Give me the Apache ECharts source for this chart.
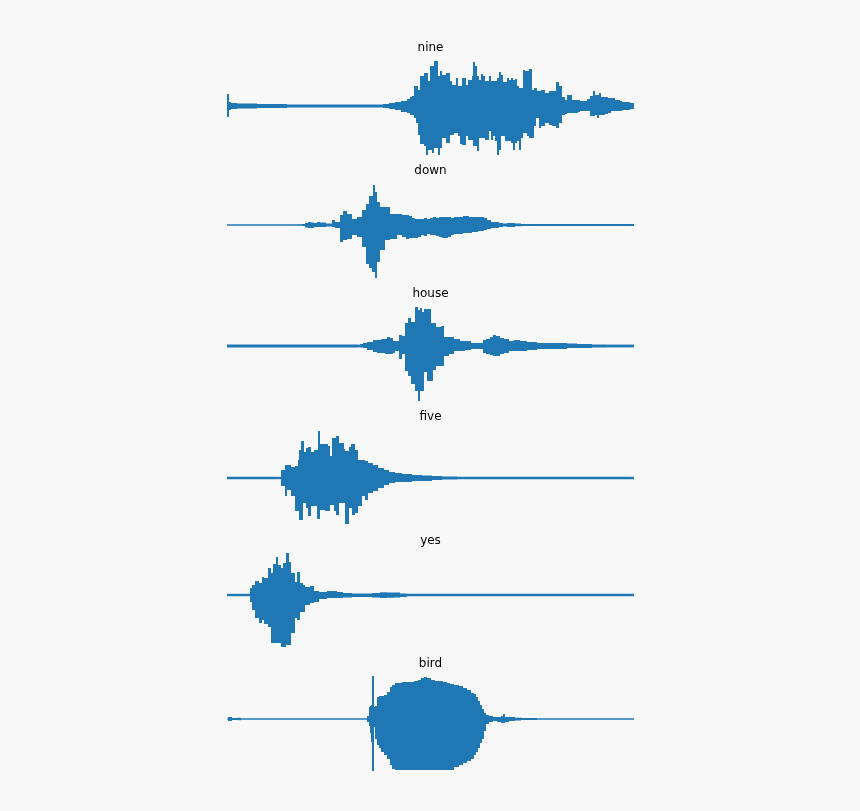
<!DOCTYPE html>
<html><head><meta charset="utf-8">
<style>html,body{margin:0;padding:0;background:#f8f8f8}#c{width:860px;height:811px}</style>
<script src="https://cdn.jsdelivr.net/npm/echarts@6/dist/echarts.min.js"></script>
</head><body><div id="c"></div>
<script>
// Each row: [time, upper envelope amplitude, lower envelope amplitude]; a row holds until the next row's time.
const words = ['nine','down','house','five','yes','bird'];
const nine = [[0,12,11],[2,4,4],[4,3,3],[10,2.5,2.5],[30,2,2],[60,1.6,1.6],[150,1.5,1.5],[156,2,2],[162,3,3],[168,4,4],[174,5,6],[180,7,7],[183,9,9],[185,10,9],[187,20,12],[189,20,17],[191,16,29],[193,30,38],[195,30,38],[197,33,40],[199,33,49],[201,25,44],[203,40,44],[205,40,47],[207,45,42],[209,45,42],[211,30,49],[213,35,42],[215,31,32],[217,31,32],[219,33,37],[221,33,37],[223,25,29],[225,21,29],[227,21,27],[229,28,27],[231,20,30],[233,20,38],[235,28,39],[237,28,39],[239,21,30],[241,26,34],[243,26,34],[245,30,34],[246,44,40],[248,40,40],[250,30,45],[252,26,32],[254,32,32],[256,30,32],[258,25,34],[260,25,34],[262,30,25],[264,25,34],[266,25,30],[268,25,35],[270,28,49],[272,34,44],[274,31,30],[276,24,30],[278,24,35],[280,28,35],[282,26,35],[284,28,37],[286,26,44],[288,27,37],[290,20,35],[292,18,44],[294,18,32],[296,36,27],[298,35,27],[300,35,30],[302,37,32],[305,16,32],[307,18,20],[309,18,12],[310,15,12],[312,15,22],[314,16,20],[316,16,20],[318,13,17],[320,13,17],[322,15,19],[325,15,20],[328,15,20],[329,24,22],[332,20,17],[335,9,9],[338,6,8],[340,11,7],[344,11,7],[345,6,7],[351,6,6],[353,5,5],[358,5,5],[360,7,5],[363,10,10],[366,15,10],[368,11,9],[370,11,12],[372,13,9],[374,9,9],[378,9,8],[381,8,7],[384,8,5],[388,6,5],[393,5,5],[395,4,4],[400,4,4],[403,3,3],[407,2,2]];
const down = [[0,.8,.8],[70,.8,.8],[75,1,1],[78,2,2.5],[81,3,3],[84,2.5,3],[87,2,2],[90,3,2],[93,2.5,2],[99,1.5,1.5],[102,1.5,1.5],[105,5,2],[108,3,3],[113,10,17],[116,14,15],[120,11,14],[125,6,10],[130,8,12],[135,15,22],[139,21,39],[142,29,43],[145,29,47],[146,40,47],[148,33,53],[150,23,37],[153,18,25],[158,18,15],[163,11,14],[170,11,10],[175,10,12],[179,10,14],[182,9,13],[185,7,13],[188,6,13],[191,6,12],[194,6,10],[197,7,11],[200,6,9],[203,7,10],[206,8,10],[209,7,11],[212,8,12],[215,8,13],[218,8,13],[221,8,12],[224,7,10],[227,8,9],[230,8,9],[233,8,9],[236,9,8],[239,9,8],[242,8,8],[245,8,7],[248,8,7],[251,8,6],[254,8,6],[257,7,5],[260,5,4],[264,3,3],[268,3,3],[272,2,2],[276,1.5,1.5],[280,2,2],[284,2,2],[288,1.5,1.2],[294,1.1,1.1],[407,1.1,1.1]];
const house = [[0,1.4,1.4],[130,1.4,1.4],[133,2,1.5],[136,3,2],[140,4,4],[146,6,6],[150,6,7],[154,7,7],[158,7,8],[160,9,8],[163,8,8],[166,5,7],[168,5,5],[172,11,13],[175,10,8],[178,23,25],[181,28,30],[184,24,38],[188,39,45],[191,36,55],[193,38,45],[195,34,45],[197,37,26],[200,37,35],[204,23,35],[206,23,24],[209,19,20],[214,20,20],[217,9,10],[222,9,8],[227,7,5],[233,5,5],[238,5,4],[244,3,3],[250,3,3],[253,3,3],[256,6,7],[259,7,8],[263,9,9],[266,11,10],[269,10,10],[273,8,8],[277,7,7],[282,5,5],[287,6,5],[293,5,5],[300,4,4],[310,3,3],[320,3,3],[330,3,3],[340,2.5,2],[350,2,2],[365,1.5,1.5],[380,1.4,1.4],[407,1.4,1.4]];
const five = [[0,1.2,1.2],[48,1.2,1.2],[54,8,8],[58,13,18],[60,13,12],[64,11,18],[68,12,33],[71,18,33],[72,28,42],[74,37,42],[76,37,25],[77,26,25],[79,30,30],[81,31,38],[84,26,28],[87,28,28],[90,28,41],[91,47,41],[93,34,32],[96,34,32],[98,34,33],[101,32,33],[103,22,27],[105,40,27],[107,40,33],[109,42,37],[112,35,25],[114,35,25],[117,29,25],[118,27,46],[122,31,30],[124,34,30],[125,34,37],[128,28,35],[131,18,28],[135,18,18],[138,17,22],[141,15,15],[146,13,13],[151,10,10],[157,8,7],[162,6,5],[168,5,4],[175,4,4],[185,3,3],[195,2.5,3],[205,2,2],[215,1.5,1.5],[230,1.2,1.2],[407,1.2,1.2]];
const yes = [[0,1.2,1.2],[18,1.2,1.2],[23,7,7],[25,10,15],[28,14,23],[32,12,28],[35,18,25],[37,17,29],[41,27,32],[44,22,48],[46,31,48],[49,38,48],[51,30,48],[54,27,52],[56,32,52],[59,42,50],[62,33,50],[64,22,38],[68,13,23],[70,23,25],[73,12,17],[76,10,17],[78,8,10],[83,9,8],[87,4,7],[92,3,4],[100,4,3],[110,3,3],[116,2,2.5],[125,1.5,2],[135,1.5,2],[145,2,2.5],[153,2.7,3],[160,2.5,2.8],[167,2.5,2.5],[173,1.5,2],[180,1.2,1.2],[407,1.2,1.2]];
const bird = [[0,.6,.6],[1,2,2],[3,2,2],[5,1,1],[10,1.2,1.2],[14,.7,.7],[138,.7,.7],[140,3,3],[142,12,7],[143,13,14],[144,14,23],[145,43,52],[147,12,8],[148,13,20],[150,22,26],[152,23,29],[154,23,33],[157,24,36],[160,27,40],[163,32,46],[165,34,50],[168,36,51],[171,36,51],[175,37,51],[179,37,51],[183,37,51],[187,38,51],[191,39,51],[194,41,51],[197,42,51],[200,41,51],[204,39,51],[208,38,51],[212,38,51],[216,37,51],[220,36,51],[223,35,51],[227,34,48],[232,33,46],[236,31,44],[240,29,42],[244,26,40],[247,25,36],[249,22,33],[251,18,29],[253,14,24],[255,10,20],[257,6,12],[259,4,5],[262,3,3],[266,2,2],[270,2,3],[274,3,4],[276,5,4],[278,2,3],[282,2,2],[288,1.3,1.5],[294,1,1],[310,.7,.7],[407,.7,.7]];

const waves = [nine, down, house, five, yes, bird];
const baselines = [106, 225, 346, 478, 595, 719];
const titleY = [47, 170, 293, 416, 540, 663];
const BLUE = '#1f77b4', HALF = 60, LEFT = 227, WIDTH = 407;

function drawColumn(params, api) {
  const a = api.coord([api.value(0), api.value(2)]);
  const b = api.coord([api.value(1), -api.value(3)]);
  return {type:'rect', shape:{x:a[0], y:a[1], width:b[0]-a[0], height:b[1]-a[1]}, style:{fill:BLUE}};
}

const chart = echarts.init(document.getElementById('c'), null, {renderer:'canvas'});
const series = waves.map((rows, i) => ({
  type:'custom', name:words[i], xAxisIndex:i, yAxisIndex:i, silent:true, clip:false,
  renderItem:drawColumn,
  encode:{x:[0,1], y:[2,3]},
  data: rows.slice(0, -1).map((r, k) => [r[0], rows[k+1][0], r[1], r[2]])
}));
chart.setOption({
  animation:false,
  backgroundColor:'#f8f8f8',
  title: words.map((w, i) => ({
    text:w, left:430.5, top:titleY[i]-6, textAlign:'center', padding:0,
    textStyle:{fontFamily:'DejaVu Sans', fontSize:12, fontWeight:'normal', color:'#000', lineHeight:14}
  })),
  grid: baselines.map(b => ({left:LEFT, width:WIDTH, top:b-HALF, height:2*HALF})),
  xAxis: baselines.map((_, i) => ({type:'value', gridIndex:i, min:0, max:407, show:false})),
  yAxis: baselines.map((_, i) => ({type:'value', gridIndex:i, min:-HALF, max:HALF, show:false})),
  series
});
</script></body></html>
